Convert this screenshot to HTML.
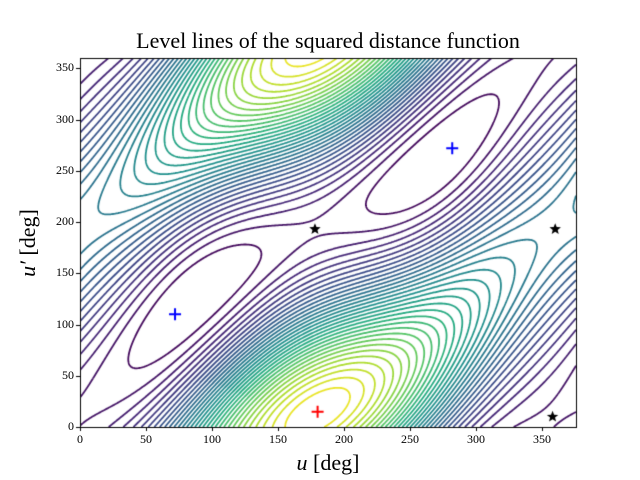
<!DOCTYPE html>
<html><head><meta charset="utf-8"><style>
body{margin:0;background:#fff;width:640px;height:480px;overflow:hidden;position:relative;font-family:"Liberation Serif",serif}
.t{position:absolute;font-size:12px;color:#000}
</style></head><body>
<canvas id="c" width="640" height="480" style="position:absolute;left:0;top:0"></canvas>
<div style="position:absolute;left:0;width:656px;top:28px;text-align:center;font-size:22px">Level lines of the squared distance function</div>
<div style="position:absolute;left:0;width:656px;top:450px;text-align:center;font-size:22px"><i>u</i> [deg]</div>
<div style="position:absolute;left:-22px;top:230px;width:100px;text-align:center;font-size:22px;transform:rotate(-90deg)"><i>u′</i> [deg]</div>
<div id="tk"></div>
<script>
const c=document.getElementById('c').getContext('2d');
const X0=80,Y0=58,W=496,H=369,SX=1.32,SY=1.025;
const d2r=Math.PI/180;
function f(u,v){
 const s=(u-v)*d2r, ur=u*d2r;
 const phi=(-15+24*Math.sin(ur-Math.PI))*d2r;
 const R=3-Math.cos(ur);
 const V=0.25+0.2*Math.cos(2*(ur-177*d2r));
 const B=(R+V)/2,A=(R-V)/2;
 const g=B-A*Math.cos(s-phi);
 return Math.pow(g,1.3);}
const G=[];let mn=1e9,mx=-1e9;
for(let y=0;y<=H;y++){const r=[];for(let x=0;x<=W;x++){const val=f(x/SX,(H-y)/SY);r.push(val);if(val<mn)mn=val;if(val>mx)mx=val;}G.push(r);}
const vir=[[68,1,84],[71,44,122],[59,81,139],[44,113,142],[33,144,141],[39,173,129],[92,200,99],[170,220,50],[253,231,37]];
function col(t){t=Math.max(0,Math.min(1,t))*8;const i=Math.min(7,Math.floor(t)),f=t-i;const a=vir[i],b=vir[i+1];return `rgb(${a.map((v,k)=>Math.round(v+(b[k]-v)*f)).join(',')})`;}
c.save();c.beginPath();c.rect(X0,Y0,W,H);c.clip();c.lineWidth=1.8;
const N=34;
for(let k=1;k<N;k++){const L=mn+(mx-mn)*k/N;c.strokeStyle=col(k/N);c.beginPath();
 for(let y=0;y<H;y++)for(let x=0;x<W;x++){
  const a=G[y][x],b=G[y][x+1],cc=G[y+1][x+1],d=G[y+1][x];const p=[];
  if((a<L)!=(b<L))p.push([x+(L-a)/(b-a),y]);
  if((b<L)!=(cc<L))p.push([x+1,y+(L-b)/(cc-b)]);
  if((cc<L)!=(d<L))p.push([x+(L-d)/(cc-d),y+1]);
  if((d<L)!=(a<L))p.push([x,y+(L-a)/(d-a)]);
  for(let i=0;i+1<p.length;i+=2){c.moveTo(X0+p[i][0],Y0+p[i][1]);c.lineTo(X0+p[i+1][0],Y0+p[i+1][1]);}
 }c.stroke();}
c.restore();
c.strokeStyle='#000';c.lineWidth=1;c.strokeRect(X0+.5,Y0+.5,W,H);
let tk='';
for(let v=0;v<=350;v+=50){const x=X0+v*SX;c.beginPath();c.moveTo(Math.round(x)+.5,Y0+H);c.lineTo(Math.round(x)+.5,Y0+H+4);c.stroke();
 tk+=`<div class="t" style="left:${x-20}px;width:40px;text-align:center;top:432px">${v}</div>`;
 const y=Y0+H-v*SY;c.beginPath();c.moveTo(X0-4,Math.round(y)+.5);c.lineTo(X0,Math.round(y)+.5);c.stroke();
 tk+=`<div class="t" style="left:36px;width:38px;text-align:right;top:${y-8}px">${v}</div>`;}
document.getElementById('tk').innerHTML=tk;
function plus(u,v,cl){const x=X0+u*SX,y=Y0+H-v*SY;c.strokeStyle=cl;c.lineWidth=2;c.beginPath();c.moveTo(x-6,y);c.lineTo(x+6,y);c.moveTo(x,y-6);c.lineTo(x,y+6);c.stroke();}
function star(u,v){const x=X0+u*SX,y=Y0+H-v*SY;c.fillStyle='#000';c.beginPath();for(let i=0;i<10;i++){const r=i%2?2.6:6,t=-Math.PI/2+i*Math.PI/5;c.lineTo(x+r*Math.cos(t),y+r*Math.sin(t));}c.fill();}
plus(72,110,'#00f');plus(282,272,'#00f');plus(180,15,'#f00');
star(178,193);star(360,193);star(358,10);
</script>
</body></html>
